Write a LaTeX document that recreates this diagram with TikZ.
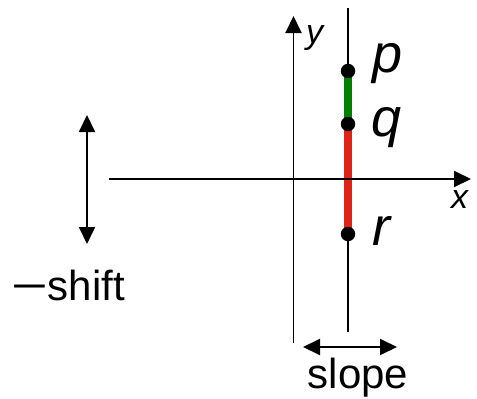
\documentclass[tikz,border=0pt]{standalone}
\usepackage{fontspec}
\usepackage{graphicx}
\setmainfont{Liberation Sans}
\usetikzlibrary{arrows.meta,backgrounds}
\definecolor{segGreen}{RGB}{0,128,0}
\definecolor{segRed}{RGB}{221,36,22}
\begin{document}
\begin{tikzpicture}[x=1pt,y=-1pt,
  axis/.style={line width=1.9pt},
  tipend/.style={-{Triangle[length=17pt,width=16pt]}},
  dbl/.style={line width=1.9pt,{Triangle[length=17pt,width=16pt]}-{Triangle[length=17pt,width=16pt]}},
  seg/.style={line width=8.5pt},
  dot/.style={circle,fill=black,inner sep=0pt,minimum size=14.5pt},
  lbl/.style={font=\fontsize{54}{60}\selectfont\itshape,inner sep=0pt,anchor=base west},
  axl/.style={font=\fontsize{34}{40}\selectfont\itshape,inner sep=0pt,anchor=base west},
  txt/.style={font=\fontsize{42}{48}\selectfont,inner sep=0pt,anchor=base west}]
\useasboundingbox (0,0) rectangle (477,399);
% axes
\coordinate (xs) at (109,179);
\coordinate (xe) at (471,179);
\coordinate (ys) at (293.5,343);
\coordinate (ye) at (293.5,16);
\draw[axis,tipend] (xs) -- (xe);
\draw[axis,tipend] (ys) -- (ye);
\node[axl] (xl) at (451,208) {x};
\node[axl] (yl) at (306,43) {y};
% vertical line with points
\coordinate (ls) at (348,332);
\coordinate (le) at (348,8);
\node[dot] (p) at (348,71) {};
\node[dot] (q) at (348,124) {};
\node[dot] (r) at (348,234) {};
\begin{pgfonlayer}{background}
\draw[axis] (ls) -- (le);
\draw[seg,segGreen] (p.center) -- (q.center);
\draw[seg,segRed] (q.center) -- (r.center);
\end{pgfonlayer}
\node[lbl] (pl) at (372,72) {p};
\node[lbl] (ql) at (371,136) {q};
\node[lbl] (rl) at (372,245) {r};
% shift arrow
\coordinate (sa) at (87,115);
\coordinate (sb) at (87,244);
\draw[dbl] (sa) -- (sb);
\node[txt] (shift) at (11,300) {\scalebox{1.5}[1]{−}shift};
% slope arrow
\coordinate (ta) at (303,347);
\coordinate (tb) at (397,347);
\draw[dbl] (ta) -- (tb);
\node[txt] (slope) at (307.5,388) {slope};
\end{tikzpicture}
\end{document}
